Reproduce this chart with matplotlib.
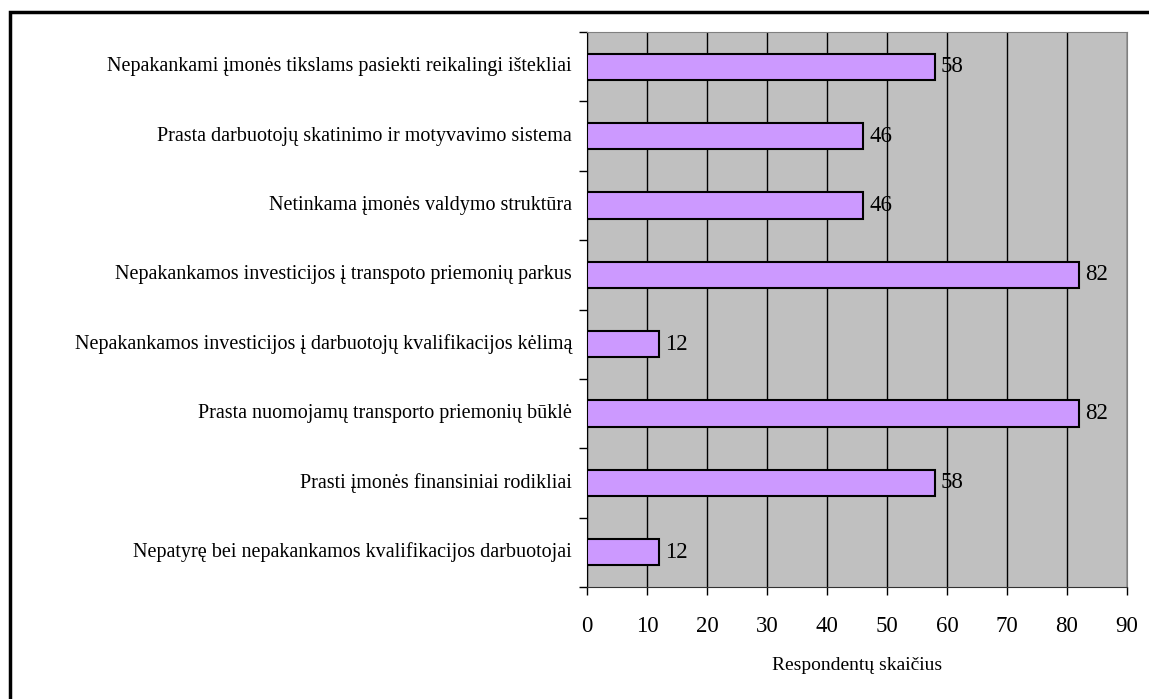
import matplotlib.pyplot as plt
from matplotlib.patches import Rectangle

# categories listed top to bottom, as in the chart
categories = [
    "Nepakankami įmonės tikslams pasiekti reikalingi ištekliai",
    "Prasta darbuotojų skatinimo ir motyvavimo sistema",
    "Netinkama įmonės valdymo struktūra",
    "Nepakankamos investicijos į transpoto priemonių parkus",
    "Nepakankamos investicijos į darbuotojų kvalifikacijos kėlimą",
    "Prasta nuomojamų transporto priemonių būklė",
    "Prasti įmonės finansiniai rodikliai",
    "Nepatyrę bei nepakankamos kvalifikacijos darbuotojai",
]
values = [58, 46, 46, 82, 12, 82, 58, 12]
x_ticks = list(range(0, 100, 10))
x_label = "Respondentų skaičius"

plt.rcParams['font.family'] = ['Liberation Serif', 'DejaVu Serif']

fig = plt.figure(figsize=(11.49, 6.99), dpi=100)
W, H = 1149, 699
# plot area in pixels: x 587..1127, y 32..587
ax = fig.add_axes([587 / W, 1 - 587 / H, (1127 - 587) / W, (587 - 32) / H])
ax.set_facecolor('#C0C0C0')

n = len(categories)
ypos = [n - 1 - i for i in range(n)]
ax.barh(ypos, values, height=0.38, color='#CC99FF', edgecolor='black',
        linewidth=1.5, zorder=3)
for y, v in zip(ypos, values):
    ax.text(v + 1.0, y, str(v), va='center', ha='left', fontsize=16.5, zorder=4)

ax.set_xlim(0, 90)
ax.set_ylim(-0.5, n - 0.5)
ax.set_xticks(x_ticks)
ax.set_xticklabels([str(t) for t in x_ticks], fontsize=16.5)
ax.tick_params(axis='x', direction='out', length=6, width=1, pad=15)
ax.xaxis.grid(True, color='black', linewidth=1)
ax.set_axisbelow(True)

# category labels on the left, tick marks between categories
ax.set_yticks([y + 0.5 for y in range(-1, n)])
ax.set_yticklabels([])
ax.tick_params(axis='y', direction='out', length=6, width=1)
for y, lab in zip(ypos, categories):
    ax.text(-2.5, y, lab, ha='right', va='center', fontsize=14.5,
            transform=ax.transData)

ax.set_xlabel(x_label, fontsize=14, labelpad=14)

for side in ['top', 'right']:
    ax.spines[side].set_color('#808080')
ax.spines['left'].set_color('black')
ax.spines['bottom'].set_color('#333333')

# outer chart border (only left/top visible in the crop)
fig.patches.append(Rectangle((10 / W, -0.05), 1.1, 1 - 12 / H + 0.05,
                             transform=fig.transFigure, fill=False,
                             edgecolor='black', linewidth=2.5))

fig.savefig('out.png', dpi=100)
